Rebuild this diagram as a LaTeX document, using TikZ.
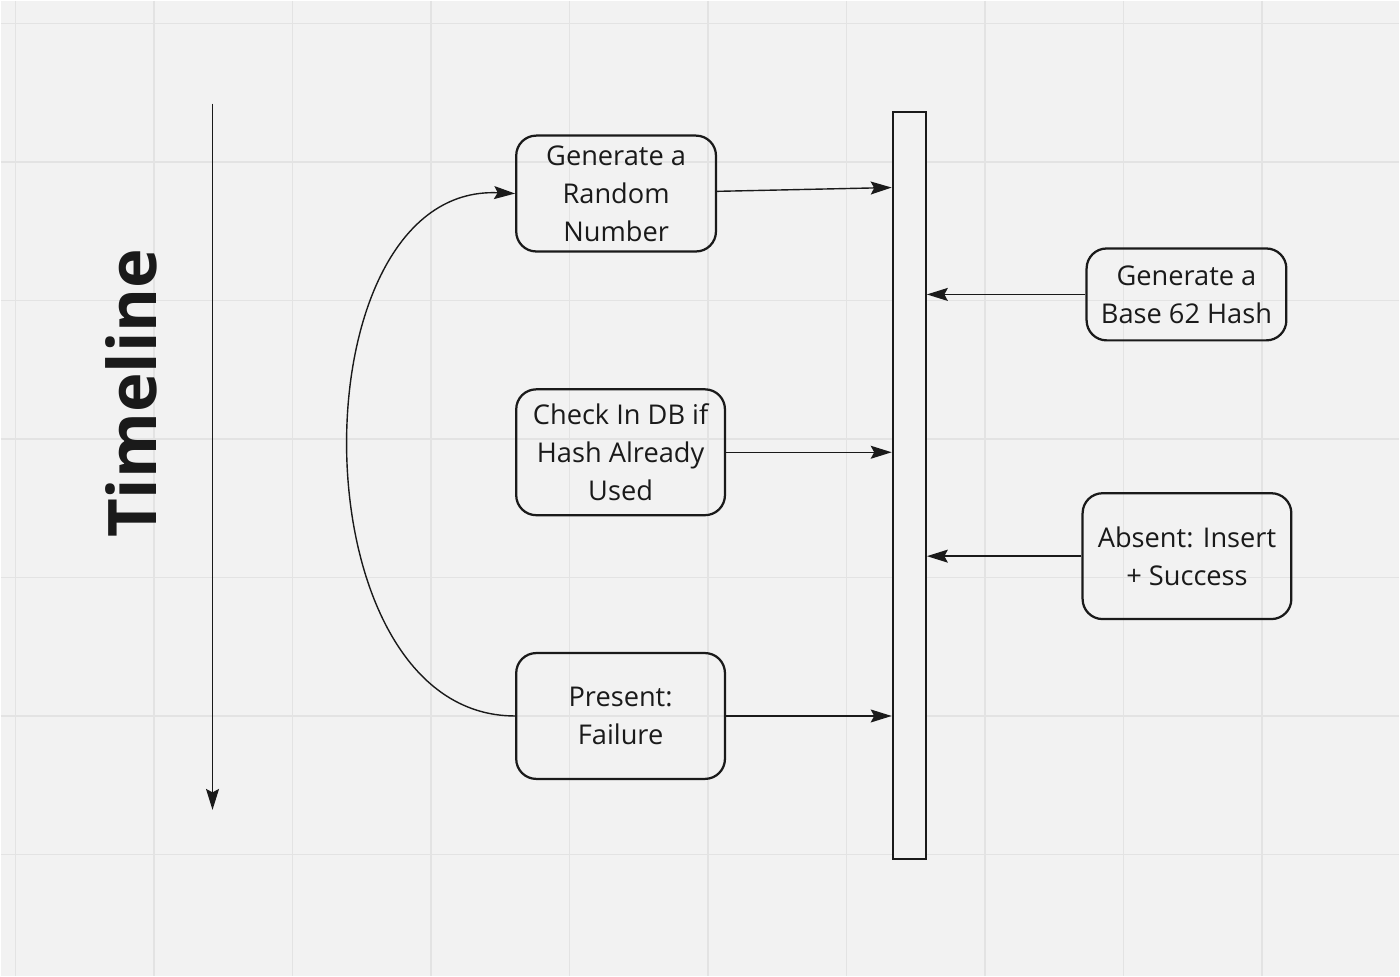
\documentclass[tikz,border=0pt]{standalone}
\usepackage{fontspec}
\setmainfont{Open Sans}
\usetikzlibrary{arrows.meta}
\definecolor{fond}{HTML}{F2F2F2}
\definecolor{grille}{HTML}{E3E3E3}
\definecolor{encre}{HTML}{1A1A1A}
\tikzset{
  etape/.style = {draw=encre, text=encre, rounded corners=0.4cm,
    line width=0.045cm, align=center, inner sep=0pt,
    font=\fontsize{15.5}{21.6}\selectfont},% boite d'une etape
  barre/.style = {draw=encre, fill=fond, line width=0.045cm, inner sep=0pt,
    minimum width=0.66cm, minimum height=14.96cm},% ligne de vie
  titre/.style = {text=encre, inner sep=0pt,
    font=\fontsize{38.2}{40}\selectfont\bfseries},% titre vertical
  fleche/.style = {draw=encre, line width=0.028cm,
    -{Stealth[length=0.42cm, width=0.26cm, inset=0.07cm]}}% fleche
}

\begin{document}
\begin{tikzpicture}[x=0.02cm, y=-0.02cm]
\fill[fond] (0,0) rectangle (1400,976);
\foreach \i in {0,...,9}
  \draw[grille, line width=0.03cm] ({15+138.6*\i},0) -- ({15+138.6*\i},976);
\foreach \j in {0,...,6}
  \draw[grille, line width=0.03cm] (0,{23+138.6*\j}) -- (1400,{23+138.6*\j});
\useasboundingbox (0,0) rectangle (1400,976);

% timeline
\node[titre, rotate=90] (titre) at (131,393) {Timeline};
\coordinate (t0) at (212,103);
\coordinate (t1) at (212,810);
\draw[fleche] (t0) -- (t1);

% etapes
\node[etape, minimum width=4cm, minimum height=2.32cm] (rnd) at (616,193)
  {Generate a\\Random\\Number};
\node[etape, minimum width=4.18cm, minimum height=2.52cm] (check) at (620.5,452)
  {Check In DB if\\Hash Already\\Used};
\node[etape, minimum width=4.18cm, minimum height=2.52cm] (fail) at (620.5,716)
  {Present:\\Failure};
\node[etape, minimum width=4cm, minimum height=1.84cm] (hash) at (1187,294)
  {Generate a\\Base 62 Hash};
\node[etape, minimum width=4.18cm, minimum height=2.52cm] (ok) at (1187.5,556)
  {Absent: Insert\\+ Success};
\node[barre] (bar) at (909.5,485) {};

\draw[fleche] (rnd) -- ([yshift=0.12cm]bar.west |- rnd);
\draw[fleche] (check) -- (bar.west |- check);
\draw[fleche] (fail) -- (bar.west |- fail);
\draw[fleche] (hash) -- (bar.east |- hash);
\draw[fleche] (ok) -- (bar.east |- ok);
\draw[fleche] (fail.west) .. controls +(-222,0) and +(-222,-10) .. (rnd.west);
\end{tikzpicture}
\end{document}
